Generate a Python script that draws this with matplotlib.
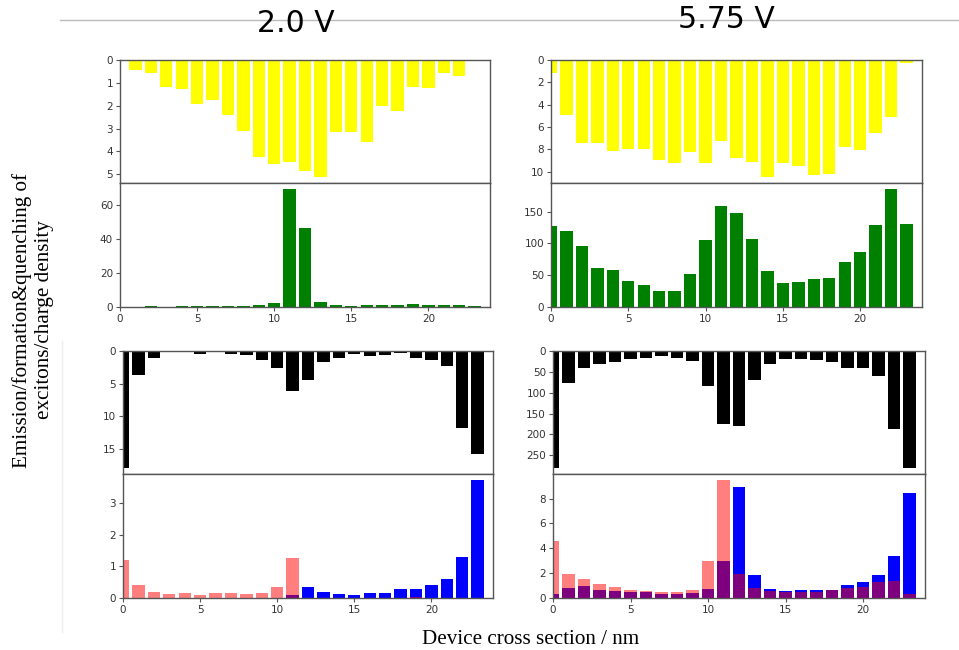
import matplotlib.pyplot as plt
import numpy as np
from matplotlib.ticker import MultipleLocator
from matplotlib.lines import Line2D

W, H = 959, 650

pos = np.arange(24)

# 2.0 V
emis_2v = [0.03, 0.44, 0.56, 1.17, 1.28, 1.91, 1.76, 2.43, 3.11, 4.25, 4.57, 4.46,
           4.84, 5.13, 3.17, 3.17, 3.58, 2.02, 2.23, 1.17, 1.23, 0.56, 0.70, 0.0]
form_2v = [0.0, 0.0, 0.3, 0.0, 0.3, 0.3, 0.3, 0.3, 0.3, 1.0, 2.3, 69.7,
           46.5, 3.0, 1.0, 0.5, 1.0, 1.0, 1.0, 1.8, 1.0, 1.4, 1.0, 0.5]
quench_2v = [18.0, 3.69, 1.13, 0.2, 0.2, 0.4, 0.1, 0.4, 0.6, 1.44, 2.67, 6.15,
             4.51, 1.74, 1.13, 0.5, 0.8, 0.6, 0.3, 1.0, 1.33, 2.26, 11.8, 15.8]
elec_2v = [1.21, 0.40, 0.20, 0.13, 0.17, 0.11, 0.17, 0.15, 0.13, 0.17, 0.35, 1.26,
           0.01, 0.01, 0.0, 0.0, 0.0, 0.0, 0.01, 0.02, 0.01, 0.0, 0.0, 0.0]
hole_2v = [0.0, 0.0, 0.0, 0.0, 0.0, 0.0, 0.0, 0.0, 0.0, 0.0, 0.01, 0.10,
           0.35, 0.18, 0.12, 0.10, 0.16, 0.16, 0.30, 0.27, 0.40, 0.60, 1.31, 3.73]

# 5.75 V
emis_575v = [1.13, 4.96, 7.40, 7.40, 8.15, 8.0, 7.94, 8.93, 9.22, 8.27, 9.22, 7.22,
             8.81, 9.16, 10.48, 9.22, 9.52, 10.33, 10.21, 7.76, 8.09, 6.57, 5.07, 0.24]
form_575v = [126.8, 119.5, 95.3, 61.6, 58.4, 41.6, 34.2, 25.8, 24.7, 52.1, 104.7, 158.4,
             147.9, 106.8, 56.3, 38.4, 39.5, 43.7, 45.8, 71.1, 85.8, 128.9, 185.8, 131.1]
quench_575v = [281, 76.7, 41.5, 32, 25.6, 19.2, 17.6, 12.8, 16, 24, 83, 175.7,
               179, 68.7, 30.4, 19.2, 19.2, 20.8, 25.6, 40, 41.5, 59, 187, 279.6]
elec_575v = [4.61, 1.97, 1.54, 1.11, 0.86, 0.67, 0.57, 0.51, 0.46, 0.62, 2.94, 9.51,
             1.91, 0.84, 0.57, 0.51, 0.49, 0.51, 0.62, 0.78, 0.89, 1.27, 1.37, 0.35]
hole_575v = [0.30, 0.84, 0.94, 0.67, 0.59, 0.46, 0.46, 0.35, 0.30, 0.40, 0.73, 2.96,
             8.92, 1.86, 0.73, 0.57, 0.62, 0.62, 0.67, 1.02, 1.27, 1.86, 3.37, 8.44]

SPINE = '#555555'
TICK = '#333333'


def px_axes(fig, left, top, right, bottom):
    return fig.add_axes([left / W, 1 - bottom / H, (right - left) / W, (bottom - top) / H])


def style(ax, step, show_x):
    for s in ax.spines.values():
        s.set_color(SPINE)
        s.set_linewidth(1.0)
    ax.tick_params(colors=SPINE, labelcolor=TICK, labelsize=7.5, length=3, width=0.8, pad=2)
    ax.yaxis.set_major_locator(MultipleLocator(step))
    ax.set_xlim(0, 24)
    ax.xaxis.set_major_locator(MultipleLocator(5))
    if not show_x:
        ax.tick_params(axis='x', bottom=False, labelbottom=False)


def panel(fig, box, emis, form, top_color, steps, two=None):
    left, top, right, mid, bottom = box
    ax1 = px_axes(fig, left, top, right, mid)
    ax2 = px_axes(fig, left, mid, right, bottom)

    ax1.bar(pos, emis, width=0.8, color=top_color)
    ax1.set_ylim(max(emis) * 1.05, 0)
    style(ax1, steps[0], False)

    if two is None:
        ax2.bar(pos, form, width=0.8, color='green')
        ax2.set_ylim(0, max(form) * 1.05)
    else:
        elec, hole = two
        ax2.bar(pos, hole, width=0.8, color='blue')
        ax2.bar(pos, elec, width=0.8, color='red', alpha=0.5)
        ax2.set_ylim(0, max(max(elec), max(hole)) * 1.05)
    style(ax2, steps[1], True)


fig = plt.figure(figsize=(W / 100, H / 100), dpi=100)

panel(fig, (120, 60, 490, 183, 307), emis_2v, form_2v, 'yellow', (1, 20))
panel(fig, (551, 60, 922, 183, 307), emis_575v, form_575v, 'yellow', (2, 50))
panel(fig, (123, 351, 493, 474, 598), quench_2v, None, 'black', (5, 1),
      two=(elec_2v, hole_2v))
panel(fig, (553, 351, 925, 474, 598), quench_575v, None, 'black', (50, 2),
      two=(elec_575v, hole_575v))

# slide decorations
fig.add_artist(Line2D([60 / W, 1], [1 - 20 / H, 1 - 20 / H], color='#bbbbbb', lw=1))
fig.add_artist(Line2D([62 / W, 62 / W], [1 - 341 / H, 1 - 632 / H], color='#eeeeee', lw=1))

fig.text(296 / W, 1 - 24 / H, '2.0 V', fontsize=21.5, ha='center', va='center')
fig.text(726 / W, 1 - 20 / H, '5.75 V', fontsize=21.5, ha='center', va='center')

serif = ['Liberation Serif', 'DejaVu Serif']
fig.text(33 / W, 1 - 320 / H, 'Emission/formation&quenching of\nexcitons/charge density',
         rotation=90, ha='center', va='center', multialignment='center',
         fontsize=15.2, family=serif, linespacing=1.2)
fig.text(531 / W, 1 - 640 / H, 'Device cross section / nm', ha='center', va='center',
         fontsize=15.2, family=serif)

fig.savefig('out.png', dpi=100)
